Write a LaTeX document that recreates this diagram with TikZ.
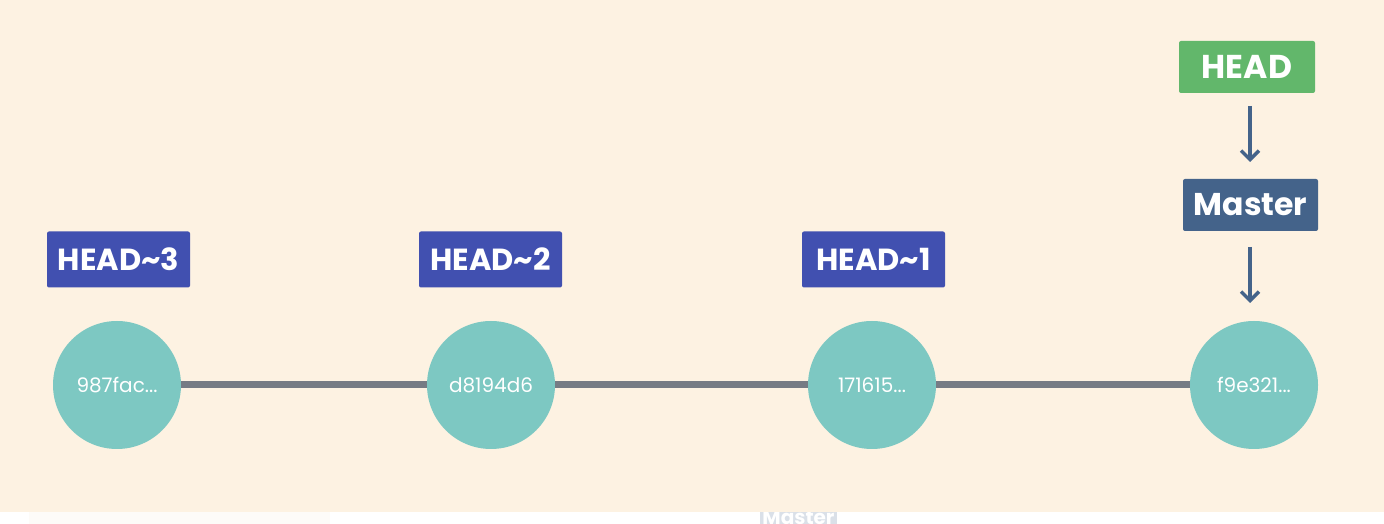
\documentclass[tikz,border=0pt]{standalone}
\usepackage{fontspec}
\setmainfont{Poppins}
\usetikzlibrary{arrows.meta}
\definecolor{bgc}{HTML}{FDF2E2}
\definecolor{commitc}{HTML}{7DC8C2}
\definecolor{relc}{HTML}{4150B0}
\definecolor{headc}{HTML}{62B76B}
\definecolor{masterc}{HTML}{44638A}
\definecolor{linec}{HTML}{767B84}
\definecolor{faintc}{HTML}{FDFBF8}
\begin{document}
\begin{tikzpicture}[x=1pt,y=1pt,
  commit/.style={circle,fill=commitc,minimum size=128pt,inner sep=0pt,text=white,font=\fontsize{20}{24}\selectfont},
  rel/.style={rectangle,rounded corners=2pt,fill=relc,text=white,minimum width=143pt,minimum height=56pt,inner sep=0pt,font=\bfseries\fontsize{30.5}{34}\selectfont},
  headbox/.style={rectangle,rounded corners=2pt,fill=headc,text=white,minimum width=136pt,minimum height=52pt,inner sep=0pt,font=\bfseries\fontsize{33}{36}\selectfont},
  masterbox/.style={rectangle,rounded corners=2pt,fill=masterc,text=white,minimum width=135pt,minimum height=52pt,inner sep=0pt,font=\bfseries\fontsize{31.5}{36}\selectfont},
  link/.style={draw=linec,line width=7pt},
  ptr/.style={draw=masterc,line width=3.5pt,-{Straight Barb[length=9pt,width=18pt,line width=3.5pt]}}
]
\useasboundingbox (0,0) rectangle (1384,524);
\clip (0,0) rectangle (1384,524);
\fill[white] (0,0) rectangle (1384,524);
\fill[faintc] (29,0) rectangle (330,12);
\node[rectangle,fill=masterc!20,minimum width=77pt,minimum height=30pt,inner sep=0pt,text=white,font=\bfseries\fontsize{20}{24}\selectfont] (ghost) at (798.5,6) {Master};
\fill[bgc] (0,11.5) rectangle (1384,524);
% commits
\node[commit] (c1) at (117,139) {987fac...};
\node[commit] (c2) at (491,139) {d8194d6};
\node[commit] (c3) at (872,139) {171615...};
\node[commit] (c4) at (1254,139) {f9e321...};
\draw[link] (c1.east) -- (c2.west);
\draw[link] (c2.east) -- (c3.west);
\draw[link] (c3.east) -- (c4.west);
% relative refs
\node[rel] (h3) at (118.5,264.5) {HEAD\textasciitilde 3};
\node[rel] (h2) at (490.5,264.5) {HEAD\textasciitilde 2};
\node[rel] (h1) at (873.5,264.5) {HEAD\textasciitilde 1};
% head / master
\node[headbox] (head) at (1247,457) {HEAD};
\node[masterbox] (master) at (1250.5,319) {Master};
\coordinate (a1s) at (1250,418);
\coordinate (a1e) at (1250,362);
\coordinate (a2s) at (1250,277);
\coordinate (a2e) at (1250,221);
\draw[ptr] (a1s) -- (a1e);
\draw[ptr] (a2s) -- (a2e);
\end{tikzpicture}
\end{document}
